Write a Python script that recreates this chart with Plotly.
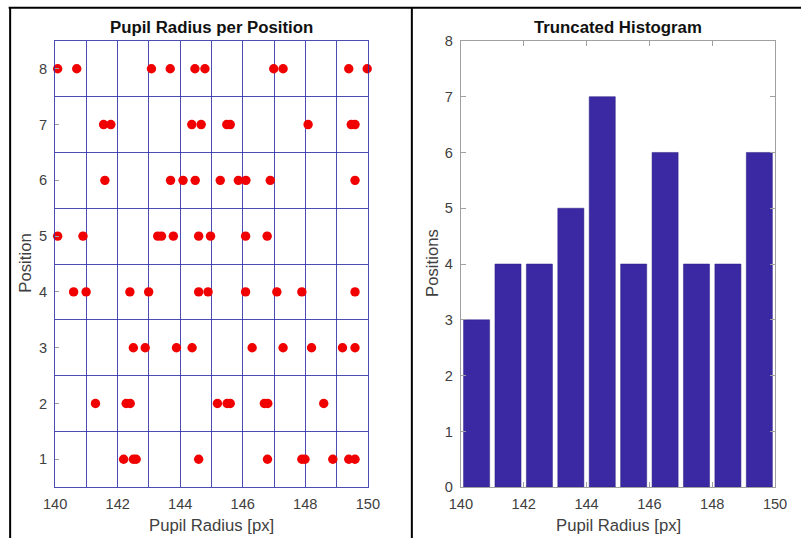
import plotly.graph_objects as go

# ---- data ----
pos1 = [142.19, 142.50, 142.59, 144.59, 146.79, 147.89, 147.99, 148.88, 149.39, 149.59]
pos2 = [141.29, 142.27, 142.40, 145.19, 145.50, 145.60, 146.69, 146.80, 148.59]
pos3 = [142.50, 142.88, 143.88, 144.38, 146.30, 147.29, 148.20, 149.19, 149.59]
pos4 = [140.59, 140.99, 142.39, 142.99, 144.59, 144.89, 146.09, 147.09, 147.89, 149.59]
pos5 = [140.08, 140.89, 143.28, 143.40, 143.78, 144.59, 144.97, 146.09, 146.78]
pos6 = [141.59, 143.69, 144.09, 144.48, 145.28, 145.86, 146.10, 146.88, 149.59]
pos7 = [141.55, 141.78, 144.37, 144.67, 145.49, 145.60, 148.09, 149.47, 149.59]
pos8 = [140.08, 140.69, 143.08, 143.68, 144.47, 144.79, 146.99, 147.29, 149.39, 149.98]
positions = [1, 2, 3, 4, 5, 6, 7, 8]

bin_centers = [140.5, 141.5, 142.5, 143.5, 144.5, 145.5, 146.5, 147.5, 148.5, 149.5]
counts = [3, 4, 4, 5, 7, 4, 6, 4, 4, 6]

x_ticks = [140, 142, 144, 146, 148, 150]
y_ticks_left = [1, 2, 3, 4, 5, 6, 7, 8]
y_ticks_right = [0, 1, 2, 3, 4, 5, 6, 7, 8]

# ---- build ----
rows = [pos1, pos2, pos3, pos4, pos5, pos6, pos7, pos8]
xs, ys = [], []
for p, r in zip(positions, rows):
    xs += r
    ys += [p] * len(r)

# layout helpers: positions are given in screenshot pixels and mapped to paper
S, BX, BY, M = 0.97, 3.6, 0.4, 8
WF, HF = 814, 546
def px(ix): return ((ix - BX) / S - M) / WF
def py(iy): return 1 - ((iy - BY) / S - M) / HF

FONT = "Liberation Sans, Arial, sans-serif"
BLUE = "rgba(45,45,165,0.85)"
GRAY = "#a0a0a0"

fig = go.Figure()
fig.add_trace(go.Scatter(x=xs, y=ys, mode="markers",
                         marker=dict(color="#f00000", size=9.4, line=dict(width=0)),
                         xaxis="x", yaxis="y", showlegend=False, cliponaxis=False))
fig.add_trace(go.Bar(x=bin_centers, y=counts, width=0.83,
                     marker=dict(color="#3a29a2", line=dict(color="#2a1c80", width=0.5)),
                     xaxis="x2", yaxis="y2", showlegend=False))

tickfont = dict(family=FONT, size=14.6, color="#404040")
AT = dict(family=FONT, size=16.7, color="#404040")
TT = dict(family=FONT, size=16.8, color="#111")

fig.update_layout(
    width=WF, height=HF, margin=dict(l=0, r=0, t=0, b=0),
    paper_bgcolor="white", plot_bgcolor="white",
    xaxis=dict(domain=[px(54.5), px(367)], range=[140, 150], tickvals=x_ticks,
               showgrid=False, zeroline=False, showline=True, linecolor=BLUE, mirror=True,
               ticks="", tickfont=tickfont, ticklabelstandoff=3,
               minor=dict(tickvals=[141, 142, 143, 144, 145, 146, 147, 148, 149],
                          showgrid=True, gridcolor=BLUE, gridwidth=1),
               anchor="y"),
    yaxis=dict(domain=[py(487), py(41)], range=[0.5, 8.5], tickvals=y_ticks_left,
               showgrid=False, zeroline=False, showline=True, linecolor=BLUE, mirror=True,
               ticks="inside", ticklen=4, tickcolor=GRAY, tickfont=tickfont, ticklabelstandoff=4,
               minor=dict(tickvals=[1.5, 2.5, 3.5, 4.5, 5.5, 6.5, 7.5],
                          showgrid=True, gridcolor=BLUE, gridwidth=1),
               anchor="x"),
    xaxis2=dict(domain=[px(460), px(774)], range=[140, 150], tickvals=x_ticks,
                showgrid=False, zeroline=False, showline=True, linecolor=GRAY, mirror="allticks",
                ticks="inside", ticklen=5, tickcolor=GRAY, tickfont=tickfont, ticklabelstandoff=3,
                anchor="y2"),
    yaxis2=dict(domain=[py(487), py(41)], range=[0, 8], tickvals=y_ticks_right,
                showgrid=False, zeroline=False, showline=True, linecolor=GRAY, mirror="allticks",
                ticks="inside", ticklen=5, tickcolor=GRAY, tickfont=tickfont, ticklabelstandoff=4,
                anchor="x2"),
    annotations=[
        dict(text="<b>Pupil Radius per Position</b>", x=px(210.5), y=py(28), font=TT),
        dict(text="<b>Truncated Histogram</b>", x=px(617), y=py(28), font=TT),
        dict(text="Pupil Radius [px]", x=px(211), y=py(525), font=AT),
        dict(text="Pupil Radius [px]", x=px(617.5), y=py(525), font=AT),
        dict(text="Position", x=px(24), y=py(263), font=AT, textangle=-90),
        dict(text="Positions", x=px(431), y=py(263), font=AT, textangle=-90),
    ],
    shapes=[
        dict(type="line", xref="paper", yref="paper", x0=px(8), x1=1, y0=py(8), y1=py(8),
             line=dict(color="black", width=2)),
        dict(type="line", xref="paper", yref="paper", x0=px(9.5), x1=px(9.5), y0=0, y1=py(8),
             line=dict(color="black", width=2)),
        dict(type="line", xref="paper", yref="paper", x0=px(411), x1=px(411), y0=0, y1=py(8),
             line=dict(color="black", width=2)),
    ],
)
fig.update_annotations(xref="paper", yref="paper", showarrow=False,
                       xanchor="center", yanchor="middle")

fig.write_html("out.html")
